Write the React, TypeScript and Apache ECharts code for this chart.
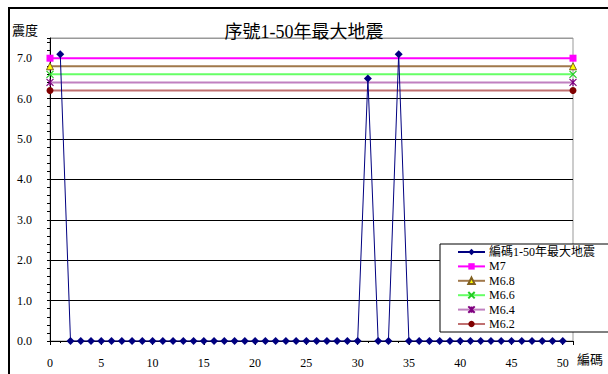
import React, { useEffect, useRef } from "react";
import * as echarts from "echarts";

const titleText = "序號1-50年最大地震";
const yName = "震度";
const xName = "編碼";
const mainName = "編碼1-50年最大地震";
const codes = Array.from({ length: 50 }, (_, i) => i + 1);
const quakeValues = [
  7.1, 0, 0, 0, 0, 0, 0, 0, 0, 0,
  0, 0, 0, 0, 0, 0, 0, 0, 0, 0,
  0, 0, 0, 0, 0, 0, 0, 0, 0, 0,
  6.5, 0, 0, 7.1, 0, 0, 0, 0, 0, 0,
  0, 0, 0, 0, 0, 0, 0, 0, 0, 0,
];
const refNames = ["M7", "M6.8", "M6.6", "M6.4", "M6.2"];
const refValues = [7, 6.8, 6.6, 6.4, 6.2];
const refXs = [0, 51];
const refLineColors = ["#ff00ff", "#a0784b", "#66ff66", "#c080c0", "#c07070"];
const refMarkerColors = ["#ff00ff", "#ffff00", "#33ee33", "#800080", "#800000"];
const refBorderColors = ["#ff00ff", "#806020", "#22cc22", "#800080", "#800000"];

const CROSS = "path://M0,0L10,10M10,0L0,10";
const STAR = "path://M0,0L10,10M10,0L0,10M5,0L5,10";
const refSymbols = ["rect", "triangle", CROSS, STAR, "circle"];

const serif = "'Liberation Serif', 'Noto Sans CJK TC', serif";

export default function App() {
  const ref = useRef<HTMLDivElement>(null);
  useEffect(() => {
    const chart = echarts.init(ref.current!, null, { renderer: "svg" });
    const refSeries = refNames.map((name, i) => ({
      name,
      type: "line",
      data: refXs.map((x) => [x, refValues[i]]),
      symbol: refSymbols[i],
      symbolSize: 7,
      clip: false,
      z: 3,
      lineStyle: { color: refLineColors[i], width: 2 },
      itemStyle: {
        color: refMarkerColors[i],
        borderColor: refBorderColors[i],
        borderWidth: i === 2 || i === 3 ? 1.2 : i === 1 ? 1 : 0,
      },
    }));
    chart.setOption({
      animation: false,
      backgroundColor: "#fff",
      title: {
        text: titleText,
        left: 299,
        textAlign: "center",
        top: 18,
        textStyle: { fontSize: 18, fontWeight: "normal", color: "#000", fontFamily: serif },
      },
      grid: {
        left: 50,
        top: 38,
        right: 35,
        bottom: 33,
        show: true,
        borderColor: "#999",
        borderWidth: 1,
        backgroundColor: "transparent",
      },
      legend: {
        orient: "vertical",
        left: 440,
        top: 244,
        padding: [2, 200, 2, 17],
        backgroundColor: "#fff",
        borderColor: "#000",
        borderWidth: 1,
        itemWidth: 27,
        itemHeight: 8,
        itemGap: 2.4,
        textStyle: { fontSize: 12, lineHeight: 12, color: "#000", fontFamily: serif, padding: [0, 0, 0, -1] },
        data: [mainName, ...refNames],
      },
      xAxis: {
        type: "value",
        min: 0,
        max: 51,
        interval: 5,
        axisLine: { show: true, lineStyle: { color: "#000", width: 1 } },
        axisTick: { show: true, length: 4, lineStyle: { color: "#000" } },
        minorTick: { show: true, splitNumber: 5, length: 2, lineStyle: { color: "#000" } },
        splitLine: { show: false },
        axisLabel: {
          margin: 16,
          fontSize: 12,
          color: "#000",
          fontFamily: serif,
          formatter: (v: number) => (v % 5 === 0 ? String(v) : ""),
        },
      },
      yAxis: {
        type: "value",
        min: 0,
        max: 7.5,
        interval: 1,
        axisLine: { show: true, lineStyle: { color: "#000", width: 1 } },
        axisTick: { show: true, length: 3, lineStyle: { color: "#000" } },
        minorTick: { show: true, splitNumber: 5, length: 3, lineStyle: { color: "#000" } },
        splitLine: {
          show: true,
          lineStyle: {
            color: ["#000", "#000", "#000", "#000", "#000", "#000", "#000", "#000", "#999"],
            width: 1,
          },
        },
        axisLabel: {
          margin: 18,
          fontSize: 12,
          color: "#000",
          fontFamily: serif,
          formatter: (v: number) => (v % 1 === 0 ? v.toFixed(1) : ""),
        },
      },
      graphic: [
        {
          type: "rect",
          shape: { x: 9, y: 8, width: 700, height: 500 },
          style: { fill: "none", stroke: "#000", lineWidth: 2 },
          silent: true,
          z: -1,
        },
        {
          type: "text",
          left: 12,
          top: 24,
          style: { text: yName, fontSize: 13, fill: "#000", fontFamily: serif },
        },
        {
          type: "text",
          left: 577,
          top: 353,
          style: { text: xName, fontSize: 13, fill: "#000", fontFamily: serif },
        },
      ],
      series: [
        {
          name: mainName,
          type: "line",
          data: codes.map((c, i) => [c, quakeValues[i]]),
          symbol: "diamond",
          symbolSize: 8,
          clip: false,
          z: 4,
          lineStyle: { color: "#000080", width: 1 },
          itemStyle: { color: "#000080" },
        },
        ...refSeries,
      ],
    });
    return () => chart.dispose();
  }, []);
  return (
    <div
      ref={ref}
      style={{ position: "fixed", left: 0, top: 0, width: 608, height: 374 }}
    />
  );
}
